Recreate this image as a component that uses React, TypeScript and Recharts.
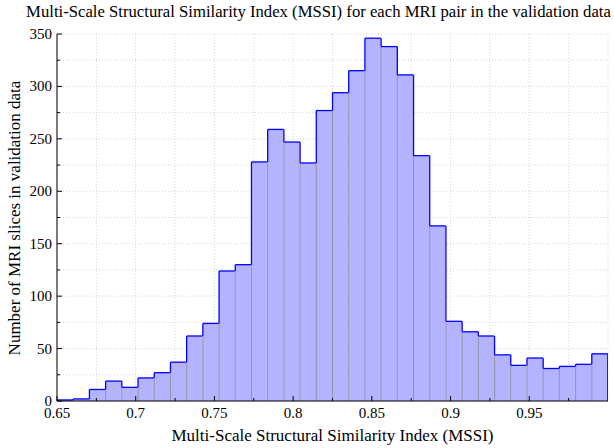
import React from "react";
import { ComposedChart, Bar, XAxis, YAxis, CartesianGrid } from "recharts";

// histogram counts per bin (34 bins between 0.65 and 1.0)
const counts = [
  1, 2, 11, 19, 13, 22, 27, 37, 62, 74, 124, 130, 228, 259, 247, 227, 277,
  294, 315, 346, 338, 311, 234, 167, 76, 66, 62, 44, 34, 41, 31, 33, 35, 45,
];
const binLo = 0.65;
const binHi = 1.0;

const xTicks = [
  0.65, 0.675, 0.7, 0.725, 0.75, 0.775, 0.8, 0.825, 0.85, 0.875, 0.9, 0.925,
  0.95, 0.975,
];
const xLabels = [0.65, 0.7, 0.75, 0.8, 0.85, 0.9, 0.95];
const yTicks = [
  0, 25, 50, 75, 100, 125, 150, 175, 200, 225, 250, 275, 300, 325, 350,
];
const yLabels = [0, 50, 100, 150, 200, 250, 300, 350];

const binWidth = (binHi - binLo) / counts.length;
const data = counts.map((c, i) => ({ x: binLo + (i + 0.5) * binWidth, count: c }));

const FONT = '"Liberation Serif", "Times New Roman", serif';
const isMajorX = (v: number) => xLabels.some((l) => Math.abs(l - v) < 1e-6);
const isMajorY = (v: number) => yLabels.includes(v);

const fmtX = (v: number) => String(Number(v.toFixed(3)));

const BottomTick = (props: any) => {
  const { x, y, payload } = props;
  const major = isMajorX(payload.value);
  return (
    <g>
      <line x1={x} x2={x} y1={y} y2={y - (major ? 5 : 3)} stroke="#000" />
      {major && (
        <text x={x} y={y + 17} textAnchor="middle" fontFamily={FONT} fontSize={15} fill="#000">
          {fmtX(payload.value)}
        </text>
      )}
    </g>
  );
};

const TopTick = (props: any) => {
  const { x, y, payload } = props;
  const major = isMajorX(payload.value);
  return <line x1={x} x2={x} y1={y} y2={y + (major ? 5 : 3)} stroke="#000" />;
};

const LeftTick = (props: any) => {
  const { x, y, payload } = props;
  const major = isMajorY(payload.value);
  return (
    <g>
      <line x1={x} x2={x + (major ? 5 : 3)} y1={y} y2={y} stroke="#000" />
      {major && (
        <text x={x - 5} y={y + 5} textAnchor="end" fontFamily={FONT} fontSize={15} fill="#000">
          {payload.value}
        </text>
      )}
    </g>
  );
};

const RightTick = (props: any) => {
  const { x, y, payload } = props;
  const major = isMajorY(payload.value);
  return <line x1={x} x2={x - (major ? 5 : 3)} y1={y} y2={y} stroke="#000" />;
};

// bar with gray side edges and a blue outline along the top envelope
const HistBar = (props: any) => {
  const { x, y, width, height, index } = props;
  const val = counts[index];
  const pxPer = val > 0 ? height / val : 0;
  const prev = index > 0 ? counts[index - 1] : 0;
  const bottom = y + height;
  const prevTop = bottom - prev * pxPer;
  const last = index === counts.length - 1;
  return (
    <g>
      <rect x={x} y={y} width={width} height={height} fill="#b3b3ff" />
      <line x1={x} x2={x} y1={Math.max(y, prevTop)} y2={bottom} stroke="#9292a8" strokeWidth={1} />
      {last && (
        <line x1={x + width} x2={x + width} y1={y} y2={bottom} stroke="#0000ff" strokeWidth={1.3} />
      )}
      <line x1={x} x2={x} y1={Math.min(y, prevTop)} y2={Math.max(y, prevTop)} stroke="#0000ff" strokeWidth={1.3} />
      <line x1={x} x2={x + width} y1={y} y2={y} stroke="#0000ff" strokeWidth={1.3} />
    </g>
  );
};

export default function App() {
  return (
    <div
      style={{
        position: "absolute",
        left: 0,
        top: 0,
        width: 614,
        height: 448,
        background: "#fff",
        fontFamily: FONT,
      }}
    >
      <div
        style={{
          position: "absolute",
          left: 18,
          width: 601,
          top: 2,
          textAlign: "center",
          fontSize: 16.7,
          whiteSpace: "nowrap",
          color: "#000",
        }}
      >
        Multi-Scale Structural Similarity Index (MSSI) for each MRI pair in the validation data
      </div>
      <ComposedChart
        width={614}
        height={448}
        data={data}
        margin={{ top: 34, right: 6, bottom: 0, left: 0 }}
        barCategoryGap={0}
        barGap={0}
      >
        <CartesianGrid stroke="#d4d4d4" strokeDasharray="1 2" />
        <XAxis
          dataKey="x"
          type="number"
          domain={[binLo, binHi]}
          ticks={xTicks}
          interval={0}
          height={47}
          tickSize={0}
          tickMargin={0}
          tickLine={false}
          axisLine={{ stroke: "#000" }}
          tick={<BottomTick />}
          allowDataOverflow
        />
        <XAxis
          xAxisId="top"
          orientation="top"
          type="number"
          domain={[binLo, binHi]}
          ticks={xTicks}
          interval={0}
          height={0}
          tickSize={0}
          tickMargin={0}
          tickLine={false}
          axisLine={{ stroke: "#000" }}
          tick={<TopTick />}
          allowDataOverflow
        />
        <YAxis
          type="number"
          domain={[0, 350]}
          ticks={yTicks}
          interval={0}
          width={57}
          tickSize={0}
          tickMargin={0}
          tickLine={false}
          axisLine={{ stroke: "#000" }}
          tick={<LeftTick />}
          allowDataOverflow
        />
        <YAxis
          yAxisId="right"
          orientation="right"
          type="number"
          domain={[0, 350]}
          ticks={yTicks}
          interval={0}
          width={0}
          tickSize={0}
          tickMargin={0}
          tickLine={false}
          axisLine={{ stroke: "#000" }}
          tick={<RightTick />}
          allowDataOverflow
        />
        <Bar dataKey="count" shape={<HistBar />} isAnimationActive={false} />
      </ComposedChart>
      <div
        style={{
          position: "absolute",
          left: 57,
          width: 551,
          top: 426,
          textAlign: "center",
          fontSize: 17,
          whiteSpace: "nowrap",
          color: "#000",
        }}
      >
        Multi-Scale Structural Similarity Index (MSSI)
      </div>
      <div
        style={{
          position: "absolute",
          left: 15,
          top: 218,
          transform: "translate(-50%, -50%) rotate(-90deg)",
          fontSize: 17,
          whiteSpace: "nowrap",
          color: "#000",
        }}
      >
        Number of MRI slices in validation data
      </div>
    </div>
  );
}
